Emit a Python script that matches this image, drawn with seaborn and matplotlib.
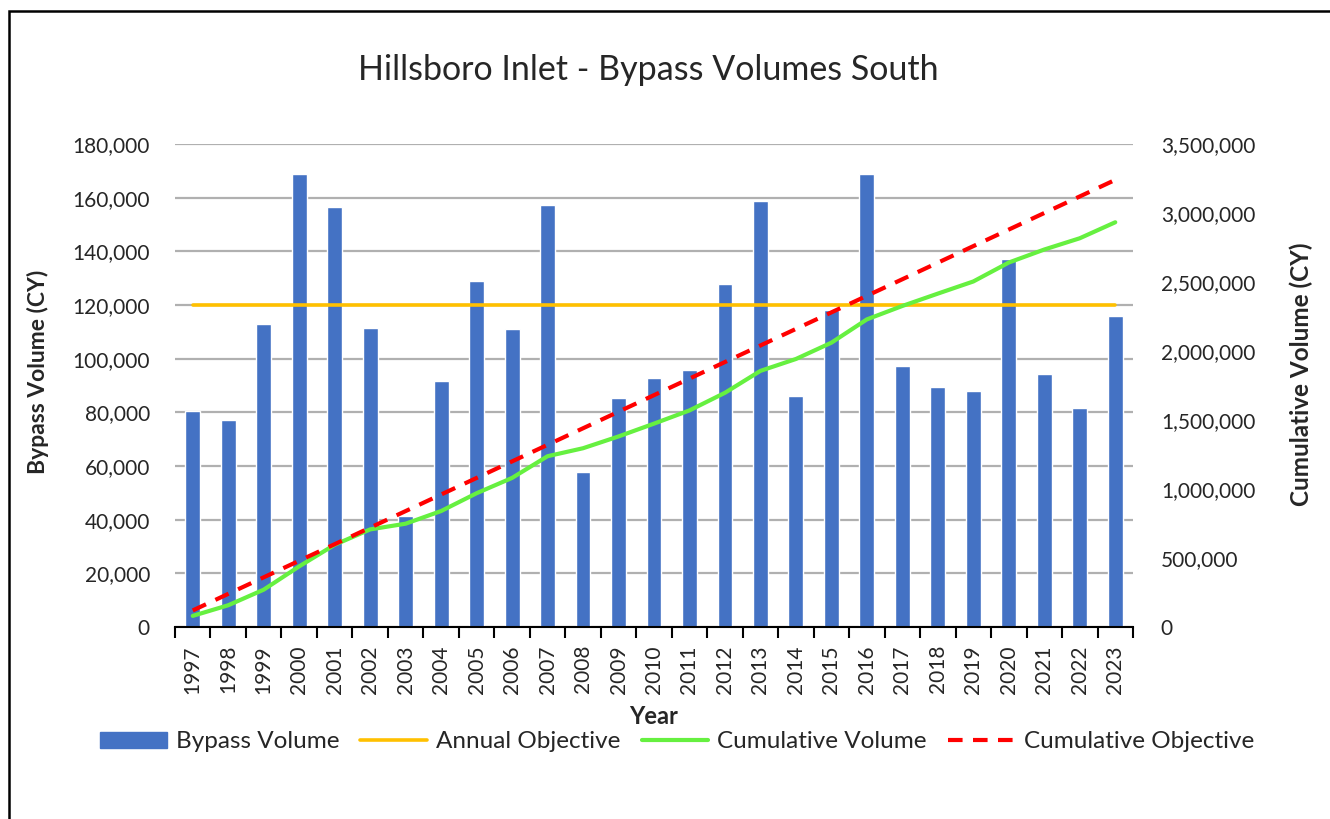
import numpy as np
import pandas as pd
import matplotlib
matplotlib.use("Agg")
import matplotlib.pyplot as plt
import seaborn as sns
from matplotlib.patches import Rectangle, Patch
from matplotlib.lines import Line2D
from matplotlib.ticker import FuncFormatter, MultipleLocator, FixedLocator

years = [str(y) for y in range(1997, 2024)]
bypass_volume = [80500, 77100, 112900, 168800, 156500, 111400, 41400, 91700,
                 129000, 111000, 157300, 57800, 85400, 92800, 95800, 127800,
                 158800, 86100, 118200, 168800, 97300, 89500, 88000, 137200,
                 94300, 81600, 115900]
annual_objective = [120000] * 27
cumulative_volume = [80500, 157600, 270500, 439300, 595800, 707200, 748600,
                     840300, 969300, 1080300, 1237600, 1295400, 1380800,
                     1473600, 1569400, 1697200, 1856000, 1942100, 2060300,
                     2229100, 2326400, 2415900, 2503900, 2641100, 2735400,
                     2817000, 2932900]
cumulative_objective = [120000, 240000, 360000, 480000, 600000, 720000, 840000,
                        960000, 1080000, 1200000, 1320000, 1440000, 1560000,
                        1680000, 1800000, 1920000, 2040000, 2160000, 2280000,
                        2400000, 2520000, 2640000, 2760000, 2880000, 3000000,
                        3120000, 3240000]

sns.set_theme(style="white")
plt.rcParams['font.family'] = ['Lato', 'DejaVu Sans']

BAR = "#4472C4"
ORANGE = "#FFC000"
GREEN = "#66F040"
RED = "#FF0000"
FS = 15
LFS = 17.5

fig = plt.figure(figsize=(13.3, 8.19), dpi=100)
ax = fig.add_axes([175/1330, 1-627/819, (1133-175)/1330, (627-144)/819])

df = pd.DataFrame({"Year": years, "Bypass": bypass_volume})
sns.barplot(data=df, x="Year", y="Bypass", color=BAR, width=0.42,
            saturation=1, ax=ax, zorder=2)
pos = np.arange(len(years))
sns.lineplot(x=pos, y=annual_objective, color=ORANGE, lw=2.6, ax=ax, zorder=3)

ax.set_ylim(0, 180000)
ax.yaxis.set_major_locator(MultipleLocator(20000))
ax.yaxis.set_major_formatter(FuncFormatter(lambda v, p: f"{int(v):,}"))
ax.set_xlim(-0.5, len(years) - 0.5)
ax.grid(axis="y", color="#b0b0b0", lw=1.6, zorder=0)
ax.set_axisbelow(True)
for s in ["left", "right", "top"]:
    ax.spines[s].set_visible(False)
ax.spines["bottom"].set_color("black")
ax.spines["bottom"].set_linewidth(1.5)
ax.spines["bottom"].set_zorder(5)
ax.set_xticks(pos)
ax.set_xticklabels(years, rotation=90)
ax.xaxis.set_minor_locator(FixedLocator(np.arange(-0.5, len(years), 1.0)))
ax.tick_params(axis="x", which="major", length=0, labelsize=FS, pad=13)
ax.tick_params(axis="x", which="minor", length=8, width=1.5, color="black",
               bottom=True)
ax.tick_params(axis="y", length=0, labelsize=FS, pad=18)
ax.set_xlabel("")
ax.set_ylabel("")

ax2 = ax.twinx()
sns.lineplot(x=pos, y=cumulative_volume, color=GREEN, lw=3, ax=ax2, zorder=3)
sns.lineplot(x=pos, y=cumulative_objective, color=RED, lw=3, ax=ax2, zorder=4,
             dashes=False, linestyle=(0, (3.5, 2.5)))
ax2.set_ylim(0, 3500000)
ax2.yaxis.set_major_locator(MultipleLocator(500000))
ax2.yaxis.set_major_formatter(FuncFormatter(lambda v, p: f"{int(v):,}"))
ax2.tick_params(axis="y", length=0, labelsize=FS, pad=20)
ax2.grid(False)
for s in ["left", "right", "top", "bottom"]:
    ax2.spines[s].set_visible(False)
ax2.set_ylabel("")

fig.text(648/1330, 1-70/819, "Hillsboro Inlet - Bypass Volumes South",
         ha="center", va="center", fontsize=24.5)
fig.text(38/1330, 1-372/819, "Bypass Volume (CY)", rotation=90,
         ha="center", va="center", fontsize=16.5, fontweight="bold")
fig.text(1301/1330, 1-374/819, "Cumulative Volume (CY)", rotation=90,
         ha="center", va="center", fontsize=17.5, fontweight="bold")
fig.text(654/1330, 1-716/819, "Year", ha="center", va="center",
         fontsize=17, fontweight="bold")

handles = [Patch(facecolor=BAR, edgecolor=BAR),
           Line2D([], [], color=ORANGE, lw=2.6),
           Line2D([], [], color=GREEN, lw=3),
           Line2D([], [], color=RED, lw=3, linestyle=(0, (3.5, 2.5)))]
labels = ["Bypass Volume", "Annual Objective", "Cumulative Volume",
          "Cumulative Objective"]
fig.legend(handles, labels, loc="center", bbox_to_anchor=(677/1330, 1-742/819),
           ncol=4, frameon=False, fontsize=LFS, handlelength=2.75,
           handleheight=0.62, handletextpad=0.37, columnspacing=0.87)

fig.add_artist(Rectangle((9/1330, -0.1), 1.2, 1.1 - 11/819,
                         transform=fig.transFigure, fill=False,
                         edgecolor="black", lw=1.8))

fig.savefig("out.png", dpi=100)
